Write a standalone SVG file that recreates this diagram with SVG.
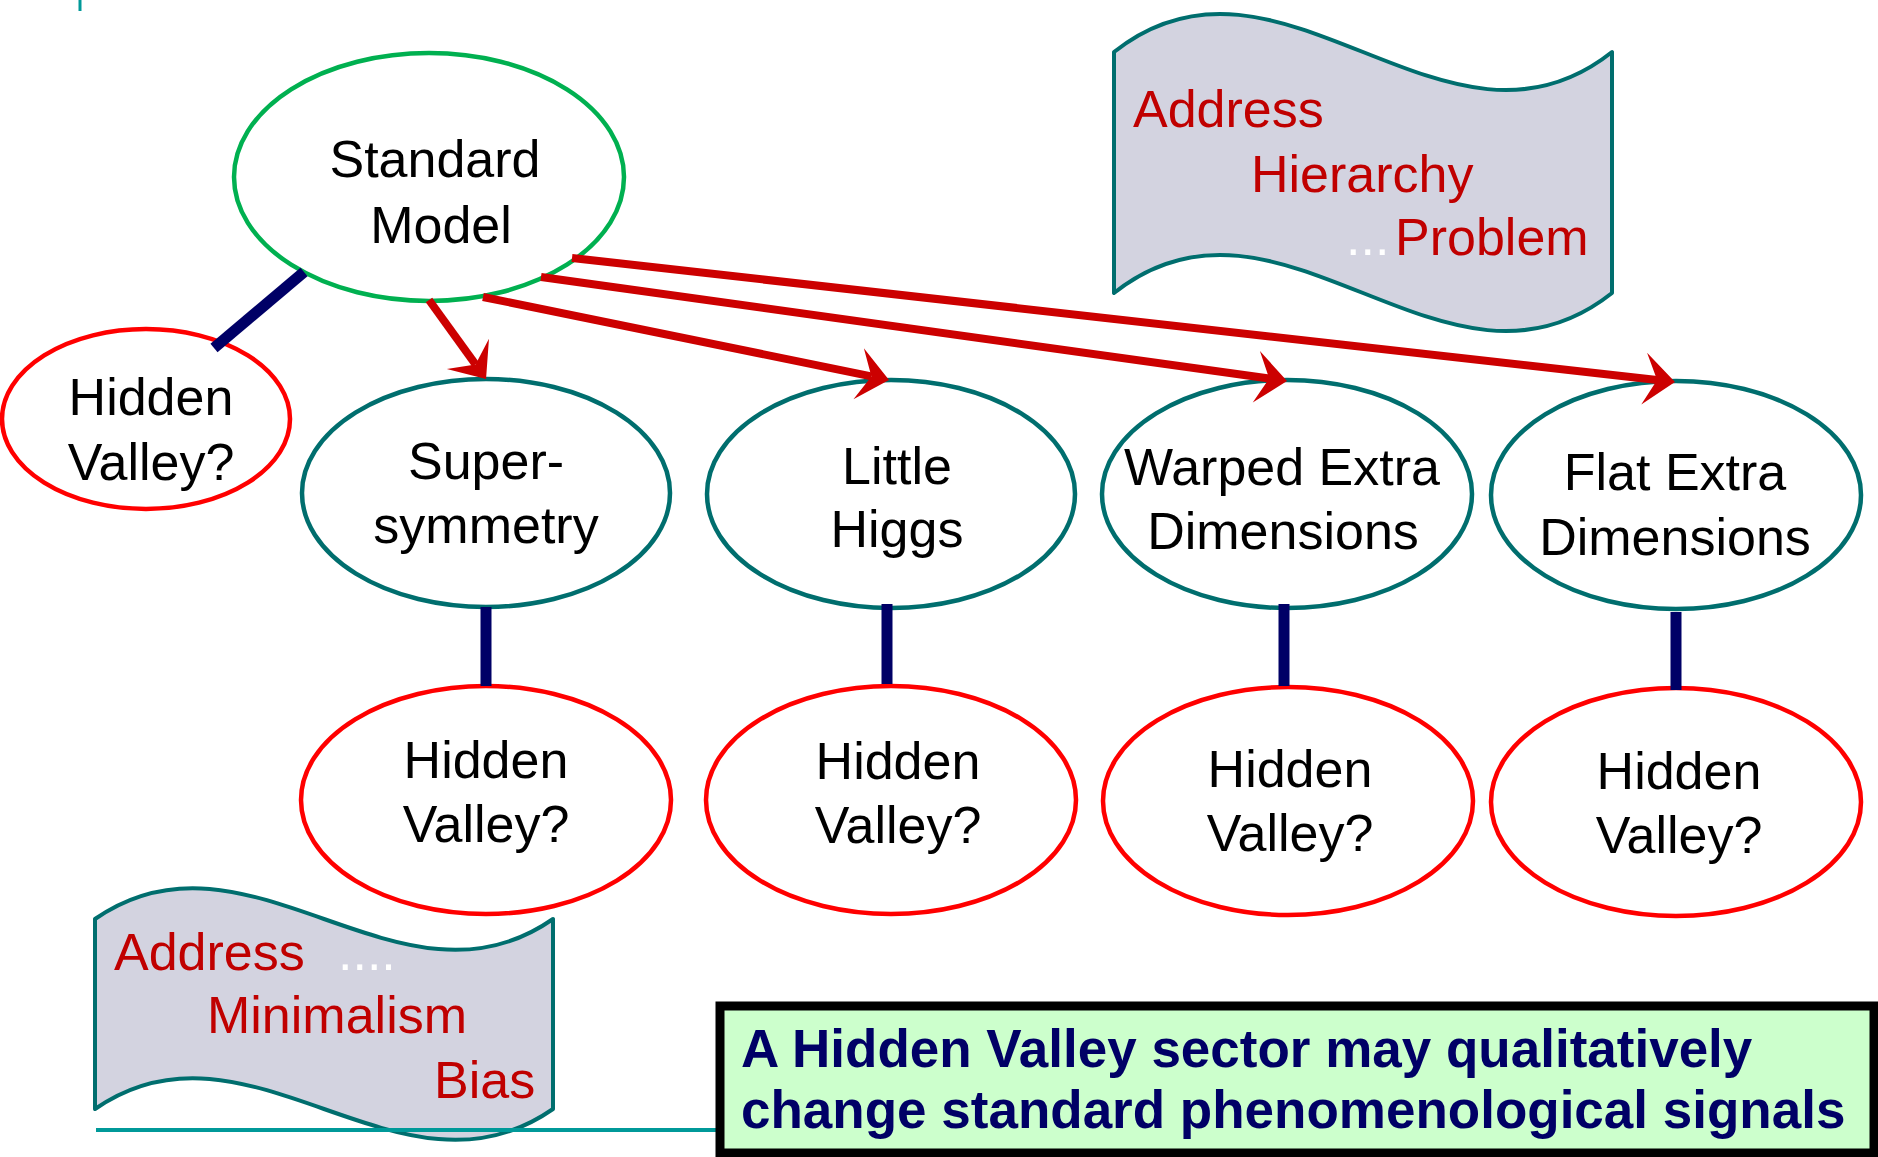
<svg xmlns="http://www.w3.org/2000/svg" width="1878" height="1157" viewBox="0 0 1878 1157">
<style>
  text { font-family: "Liberation Sans", Arial, sans-serif; }
  .lbl { font-size: 52px; fill: #000000; text-anchor: middle; }
  .node { fill: #FFFFFF; stroke-width: 4.5; }
  .teal { stroke: #006E6E; }
  .red { stroke: #FF0000; }
  .green { stroke: #00B050; }
  .arrow { stroke: #CC0000; stroke-width: 8; fill: none; }
  .link { stroke: #000066; stroke-width: 11; fill: none; }
  .banner { fill: #D3D3E0; stroke: #006E6E; stroke-width: 4; stroke-linejoin: round; }
  .btext { font-size: 52px; fill: #C00000; }
  .dots { fill: #FFFFFF; }
  .note { font-size: 53px; font-weight: bold; fill: #000066; }
  .rule { stroke: #009999; fill: none; }
</style>
<defs>
  <marker id="ah" markerUnits="userSpaceOnUse" orient="auto" markerWidth="40" markerHeight="60" viewBox="0 -30 40 60" refX="13" refY="0" overflow="visible">
    <path d="M0,-26 L31,0 L0,26 L13,0 Z" fill="#CC0000"/>
  </marker>
</defs>

<line class="rule" x1="80" y1="0" x2="80" y2="11" stroke-width="3"/>

<g id="banner-hierarchy">
  <path class="banner" d="M1114,52 C1280,-80 1446,184 1612,52 L1612,293 C1446,425 1280,161 1114,293 Z"/>
  <text class="btext" x="1133" y="127">Address</text>
  <text class="btext" x="1251" y="192">Hierarchy</text>
  <text class="btext" y="255"><tspan class="dots" x="1346">...</tspan><tspan x="1395">Problem</tspan></text>
</g>

<g id="banner-minimalism">
  <path class="banner" d="M95,919 C248,812 400,1026 553,919 L553,1109 C400,1216 248,1002 95,1109 Z"/>
  <text class="btext" x="114" y="970">Address</text>
  <text class="btext dots" x="338" y="970">....</text>
  <text class="btext" x="207" y="1033">Minimalism</text>
  <text class="btext" x="434" y="1098">Bias</text>
</g>

<line class="rule" x1="96" y1="1130" x2="722" y2="1130" stroke-width="4"/>

<g id="standard-model">
  <ellipse class="node green" cx="429" cy="177" rx="195" ry="124"/>
  <text class="lbl" x="435" y="177">Standard</text>
  <text class="lbl" x="441" y="243">Model</text>
</g>

<g id="hv-sm">
  <ellipse class="node red" cx="146" cy="419" rx="144" ry="90"/>
  <text class="lbl" x="151" y="415">Hidden</text>
  <text class="lbl" x="151" y="480">Valley?</text>
</g>

<g id="supersymmetry">
  <ellipse class="node teal" cx="486" cy="493" rx="184" ry="114"/>
  <text class="lbl" x="486" y="479">Super-</text>
  <text class="lbl" x="486" y="543">symmetry</text>
</g>

<g id="little-higgs">
  <ellipse class="node teal" cx="891" cy="494" rx="184" ry="114"/>
  <text class="lbl" x="897" y="484">Little</text>
  <text class="lbl" x="897" y="547">Higgs</text>
</g>

<g id="warped">
  <ellipse class="node teal" cx="1287" cy="494" rx="185" ry="114"/>
  <text class="lbl" x="1282" y="485">Warped Extra</text>
  <text class="lbl" x="1283" y="549">Dimensions</text>
</g>

<g id="flat">
  <ellipse class="node teal" cx="1676" cy="495" rx="185" ry="114"/>
  <text class="lbl" x="1675" y="490">Flat Extra</text>
  <text class="lbl" x="1675" y="555">Dimensions</text>
</g>

<g id="hv-susy">
  <ellipse class="node red" cx="486" cy="800" rx="185" ry="114"/>
  <text class="lbl" x="486" y="778">Hidden</text>
  <text class="lbl" x="486" y="842">Valley?</text>
</g>

<g id="hv-lh">
  <ellipse class="node red" cx="891" cy="800" rx="185" ry="114"/>
  <text class="lbl" x="898" y="779">Hidden</text>
  <text class="lbl" x="898" y="843">Valley?</text>
</g>

<g id="hv-warped">
  <ellipse class="node red" cx="1288" cy="801" rx="185" ry="114"/>
  <text class="lbl" x="1290" y="787">Hidden</text>
  <text class="lbl" x="1290" y="851">Valley?</text>
</g>

<g id="hv-flat">
  <ellipse class="node red" cx="1676" cy="802" rx="185" ry="114"/>
  <text class="lbl" x="1679" y="789">Hidden</text>
  <text class="lbl" x="1679" y="853">Valley?</text>
</g>

<g id="connectors">
  <line class="link" x1="304" y1="272" x2="214" y2="348"/>
  <line class="link" x1="486" y1="607" x2="486" y2="686"/>
  <line class="link" x1="887" y1="604" x2="887" y2="684"/>
  <line class="link" x1="1284" y1="604" x2="1284" y2="686"/>
  <line class="link" x1="1676" y1="612" x2="1676" y2="690"/>
  <line class="arrow" x1="429" y1="300" x2="475.5" y2="364.4" marker-end="url(#ah)"/>
  <line class="arrow" x1="483" y1="297" x2="871.4" y2="376.4" marker-end="url(#ah)"/>
  <line class="arrow" x1="541" y1="277" x2="1269.2" y2="378.5" marker-end="url(#ah)"/>
  <line class="arrow" x1="572" y1="258" x2="1657.1" y2="380" marker-end="url(#ah)"/>
</g>

<g id="note">
  <rect x="720" y="1006" width="1154" height="147" fill="#CCFFCC" stroke="#000000" stroke-width="9"/>
  <text class="note" x="741" y="1067">A Hidden Valley sector may qualitatively</text>
  <text class="note" x="741" y="1128">change standard phenomenological signals</text>
</g>
</svg>
